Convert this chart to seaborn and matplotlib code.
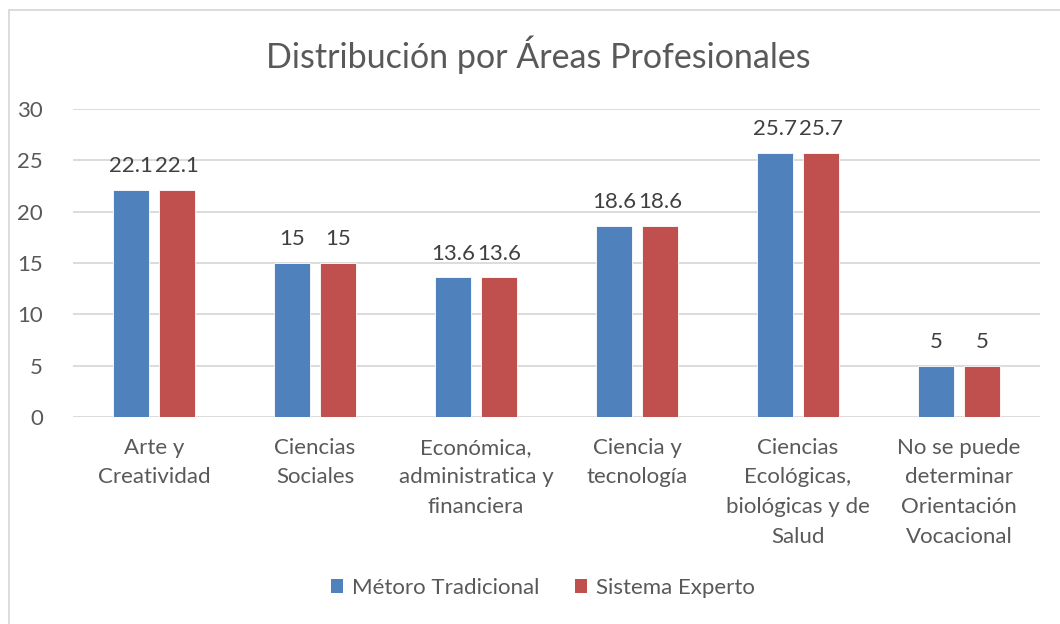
import pandas as pd
import matplotlib
matplotlib.use("Agg")
import matplotlib.pyplot as plt
import seaborn as sns
from matplotlib.lines import Line2D
from matplotlib.patches import Patch

categories = [
    "Arte y\nCreatividad",
    "Ciencias\nSociales",
    "Económica,\nadministratica y\nfinanciera",
    "Ciencia y\ntecnología",
    "Ciencias\nEcológicas,\nbiológicas y de\nSalud",
    "No se puede\ndeterminar\nOrientación\nVocacional",
]
metodo_tradicional = [22.1, 15, 13.6, 18.6, 25.7, 5]
sistema_experto = [22.1, 15, 13.6, 18.6, 25.7, 5]
series_names = ["Métoro Tradicional", "Sistema Experto"]
y_ticks = [0, 5, 10, 15, 20, 25, 30]

COLORS = ["#4F81BD", "#C0504D"]
TEXT = "#595959"
GRID = "#D9D9D9"

df = pd.DataFrame({
    "Area": categories * 2,
    "Valor": metodo_tradicional + sistema_experto,
    "Serie": [series_names[0]] * len(categories) + [series_names[1]] * len(categories),
})

sns.set_theme(style="white")
plt.rcParams["font.family"] = ["Lato", "DejaVu Sans"]

fig = plt.figure(figsize=(10.6, 6.24), dpi=100)
ax = fig.add_axes([0.0693, 0.3317, 0.9114, 0.4936])

sns.barplot(data=df, x="Area", y="Valor", hue="Serie", palette=COLORS,
            width=0.571, gap=0.217, ax=ax, legend=False, saturation=1,
            edgecolor="white", linewidth=0.6)

for cont in ax.containers:
    labels = [f"{v:g}" for v in cont.datavalues]
    ax.bar_label(cont, labels=labels, padding=10, fontsize=16, color="#404040")

ax.set_ylim(0, 30)
ax.set_xlim(-0.5, len(categories) - 0.5)
ax.set_yticks(y_ticks)
ax.set_xticks(range(len(categories)), categories, linespacing=1.6)
ax.yaxis.grid(True, color=GRID, linewidth=1.3)
ax.set_axisbelow(True)
for s in ax.spines.values():
    s.set_visible(False)
ax.tick_params(axis="y", labelsize=16, labelcolor=TEXT, length=0, pad=22)
ax.tick_params(axis="x", labelsize=16, labelcolor=TEXT, length=0, pad=15)
ax.set_xlabel("")
ax.set_ylabel("")

fig.text(0.508, 0.912, "Distribución por Áreas Profesionales", ha="center", va="center",
         fontsize=24.5, color=TEXT)

handles = [Patch(facecolor=c, edgecolor="none") for c in COLORS]
fig.legend(handles, series_names, loc="center", bbox_to_anchor=(0.512, 0.058), ncol=2,
           frameon=False, fontsize=16, labelcolor=TEXT, handlelength=0.55,
           handleheight=0.55, handletextpad=0.4, columnspacing=1.6)

# outer chart border (left and top edges visible)
fig.add_artist(Line2D([9 / 1060, 9 / 1060], [0, 1 - 10 / 624], transform=fig.transFigure,
                      color="#D9D9D9", linewidth=1.3))
fig.add_artist(Line2D([9 / 1060, 1], [1 - 10 / 624, 1 - 10 / 624], transform=fig.transFigure,
                      color="#D9D9D9", linewidth=1.3))

fig.savefig("out.png", dpi=100)
